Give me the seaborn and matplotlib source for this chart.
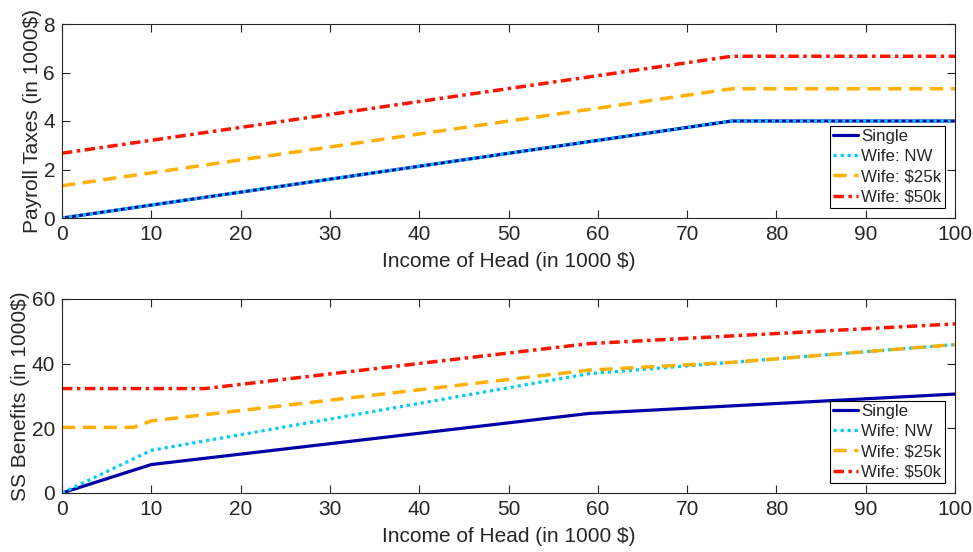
import matplotlib
matplotlib.use("Agg")
import matplotlib.pyplot as plt
import seaborn as sns
import pandas as pd

sns.set_theme(style="ticks")
plt.rcParams['font.family'] = ['Liberation Sans', 'DejaVu Sans']

# ---- data ----
series_names = ["Single", "Wife: NW", "Wife: $25k", "Wife: $50k"]

# Payroll taxes (in 1000$)
tax_x = {
    "Single": [0, 75, 100],
    "Wife: NW": [0, 75, 100],
    "Wife: $25k": [0, 75, 100],
    "Wife: $50k": [0, 75, 100],
}
tax_y = {
    "Single": [0.0, 4.0, 4.0],
    "Wife: NW": [0.0, 4.0, 4.0],
    "Wife: $25k": [1.33, 5.33, 5.33],
    "Wife: $50k": [2.67, 6.67, 6.67],
}

# SS benefits (in 1000$)
ss_x = {
    "Single": [0, 10, 59, 100],
    "Wife: NW": [0, 10, 59, 100],
    "Wife: $25k": [0, 8, 10, 59, 75, 100],
    "Wife: $50k": [0, 16, 59, 100],
}
ss_y = {
    "Single": [0.0, 8.8, 24.6, 30.6],
    "Wife: NW": [0.0, 13.2, 36.9, 45.9],
    "Wife: $25k": [20.3, 20.3, 22.3, 38.0, 40.4, 45.9],
    "Wife: $50k": [32.3, 32.3, 46.2, 52.3],
}

x_ticks = list(range(0, 101, 10))
tax_ticks = [0, 2, 4, 6, 8]
ss_ticks = [0, 20, 40, 60]

# ---- styles ----
colors = {"Single": "#0000A8", "Wife: NW": "#00CCFF",
          "Wife: $25k": "#FFB000", "Wife: $50k": "#FF1400"}
widths = {"Single": 2.3, "Wife: NW": 2.3, "Wife: $25k": 2.5, "Wife: $50k": 2.5}
dashes = {"Single": None, "Wife: NW": (1.0, 1.2),
          "Wife: $25k": (3.8, 2.2), "Wife: $50k": (3.0, 1.3, 1.0, 1.3)}

W, H = 973, 552
fig = plt.figure(figsize=(W / 100, H / 100), dpi=100)
ax1 = fig.add_axes([62 / W, (H - 218) / H, 893 / W, 194 / H])
ax2 = fig.add_axes([62 / W, (H - 493) / H, 893 / W, 194 / H])

axcol = "#262626"

def draw(ax, xs, ys, ylabel, ylim, yticks):
    for name in series_names:
        df = pd.DataFrame({"x": xs[name], "y": ys[name]})
        sns.lineplot(data=df, x="x", y="y", ax=ax, color=colors[name],
                     linewidth=widths[name], label=name, legend=False)
        l = ax.get_lines()[-1]
        if dashes[name] is not None:
            l.set_dashes(dashes[name])
    ax.set_xlim(0, 100)
    ax.set_ylim(*ylim)
    ax.set_xticks(x_ticks)
    ax.set_yticks(yticks)
    ax.set_xlabel("Income of Head (in 1000 $)", fontsize=15, color=axcol, labelpad=6)
    ax.set_ylabel(ylabel, fontsize=15, color=axcol, labelpad=1)
    ax.tick_params(direction="in", top=True, right=True, length=6, width=0.8,
                   labelsize=15, colors=axcol, pad=5)
    for s in ax.spines.values():
        s.set_color(axcol)
        s.set_linewidth(0.8)
    leg = ax.legend(loc="lower right", fontsize=12.2, frameon=True, fancybox=False,
                    edgecolor="black", framealpha=1, handlelength=1.45,
                    handletextpad=0.2, borderpad=0.2, labelspacing=0.3,
                    borderaxespad=0.6)
    leg.get_frame().set_linewidth(0.8)

draw(ax1, tax_x, tax_y, "Payroll Taxes (in 1000$)", (0, 8), tax_ticks)
draw(ax2, ss_x, ss_y, "SS Benefits (in 1000$)", (0, 60), ss_ticks)

fig.savefig("out.png", dpi=100)
